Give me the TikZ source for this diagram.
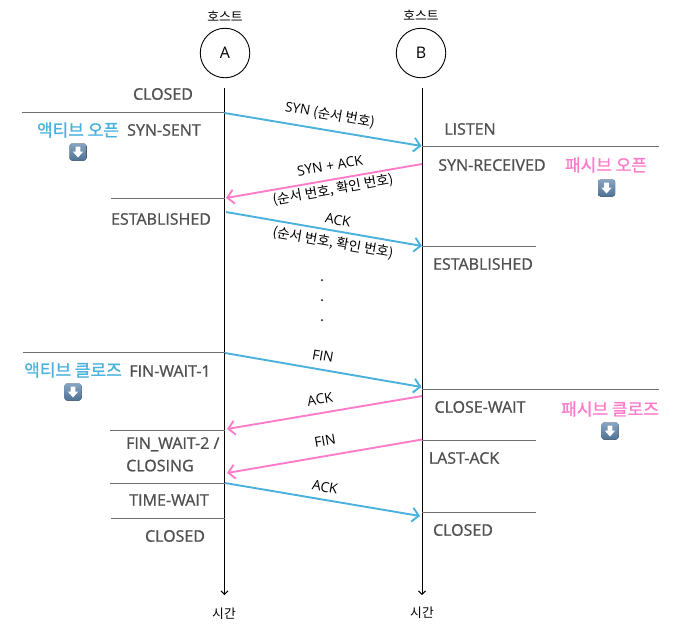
\documentclass[tikz,border=0pt]{standalone}
\usepackage{fontspec}
\setmainfont{Noto Sans CJK KR}
\newfontfamily\latf{Open Sans}
\newfontfamily\statef[FakeBold=1]{Open Sans}
\newfontfamily\rolef[FakeBold=1.2]{Noto Sans CJK KR}
\usetikzlibrary{arrows.meta}
\definecolor{tcpblue}{HTML}{4AB1DC}
\definecolor{tcppink}{HTML}{FF7CCB}
\definecolor{stategray}{HTML}{505050}
\definecolor{rulegray}{HTML}{707070}
\definecolor{btnA}{HTML}{86A5C4}
\definecolor{btnB}{HTML}{4F7195}
\tikzset{
  x=1pt,y=-1pt,
  host/.style={draw=black,line width=0.9pt,circle,minimum size=49.5pt,inner sep=0pt,font=\latf\fontsize{16}{16}\selectfont},
  small/.style={inner sep=0pt,font=\fontsize{12.8}{13}\selectfont},
  msg/.style={inner sep=0pt,font=\fontsize{13.6}{15}\selectfont},
  latmsg/.style={inner sep=0pt,font=\latf\fontsize{13.8}{15}\selectfont},
  state/.style={inner sep=0pt,text=stategray,font=\statef\fontsize{16}{19}\selectfont},
  role/.style={inner sep=0pt,font=\rolef\fontsize{17}{18}\selectfont},
  life/.style={line width=0.9pt,-{Straight Barb[length=3.5pt,width=7pt]}},
  rule/.style={line width=0.9pt,draw=rulegray},
  bluearrow/.style={line width=1.9pt,draw=tcpblue,-{Straight Barb[length=6.5pt,width=14pt]}},
  pinkarrow/.style={line width=1.9pt,draw=tcppink,-{Straight Barb[length=6.5pt,width=14pt]}},
  btn/.pic={
    \fill[top color=btnA,bottom color=btnB,rounded corners=2.5pt] (-8.5,-8.5) rectangle (8.5,8.5);
    \fill[white] (-2.3,-5.5) -- (2.3,-5.5) -- (2.3,-0.5) -- (5.3,-0.5) -- (0,5.5) -- (-5.3,-0.5) -- (-2.3,-0.5) -- cycle;
  }
}
\begin{document}
\begin{tikzpicture}
\useasboundingbox (0,0) rectangle (677,633);
% hosts
\node[small] (hostA) at (225,16) {호스트};
\node[small] (hostB) at (421,15) {호스트};
\node[host] (A) at (225,53) {A};
\node[host] (B) at (421,53) {B};
% life lines
\coordinate (At) at (224.5,88);
\coordinate (Ab) at (224.5,595);
\coordinate (Bt) at (422,88);
\coordinate (Bb) at (422,595);
\draw[life] (At) -- (Ab);
\draw[life] (Bt) -- (Bb);
% rules at A
\foreach \n/\xa/\ya in {a1/22/112,a2/111/198,a3/23/352.5,a4/110/430,a5/110/483,a6/111/518}{
  \coordinate (\n) at (\xa,\ya);
  \coordinate (\n e) at (224.5,\ya);
  \draw[rule] (\n) -- (\n e);
}
% rules at B
\foreach \n/\xa/\ya in {b1/659/146.5,b2/536/246.5,b3/659/389.5,b4/536/440,b5/536/512.5}{
  \coordinate (\n) at (\xa,\ya);
  \coordinate (\n e) at (422,\ya);
  \draw[rule] (\n e) -- (\n);
}
% messages
\coordinate (m1s) at (224.5,113);   \coordinate (m1e) at (421.5,146);
\coordinate (m2s) at (422,164);     \coordinate (m2e) at (226,198);
\coordinate (m3s) at (226,212);     \coordinate (m3e) at (422,246);
\coordinate (m4s) at (225,353);     \coordinate (m4e) at (421.5,387);
\coordinate (m5s) at (422,396);     \coordinate (m5e) at (227,429);
\coordinate (m6s) at (422,439.5);   \coordinate (m6e) at (227,473);
\coordinate (m7s) at (225,483);     \coordinate (m7e) at (420,516);
\draw[bluearrow] (m1s) -- (m1e);
\draw[pinkarrow] (m2s) -- (m2e);
\draw[bluearrow] (m3s) -- (m3e);
\draw[bluearrow] (m4s) -- (m4e);
\draw[pinkarrow] (m5s) -- (m5e);
\draw[pinkarrow] (m6s) -- (m6e);
\draw[bluearrow] (m7s) -- (m7e);
% message labels
\node[msg,rotate=-10] (l1) at (330,115) {{\latf SYN} (순서 번호)};
\node[latmsg,rotate=10] (l2) at (330,165.5) {SYN + ACK};
\node[msg,rotate=10] (l2b) at (333,190) {(순서 번호, 확인 번호)};
\node[latmsg,rotate=-10] (l3) at (338,220) {ACK};
\node[msg,rotate=-10] (l3b) at (333,243) {(순서 번호, 확인 번호)};
\node[latmsg,rotate=-10] (l4) at (323,356) {FIN};
\node[latmsg,rotate=10] (l5) at (320,399) {ACK};
\node[latmsg,rotate=10] (l6) at (325,441) {FIN};
\node[latmsg,rotate=-10] (l7) at (325,487) {ACK};
\foreach \n/\y in {d1/280,d2/300,d3/320}{\fill (322,\y) circle (1pt);}
% states left
\node[state] (s1) at (163,94) {CLOSED};
\node[state] (s2) at (164,130) {SYN-SENT};
\node[state] (s3) at (161,219) {ESTABLISHED};
\node[state] (s4) at (170,371) {FIN-WAIT-1};
\node[state,align=left,anchor=north west] (s5) at (126,437) {FIN\_WAIT-2 /\\[3.5pt]CLOSING};
\node[state] (s6) at (169,500) {TIME-WAIT};
\node[state] (s7) at (175,536) {CLOSED};
% states right
\node[state] (r1) at (470,129) {LISTEN};
\node[state] (r2) at (492,165) {SYN-RECEIVED};
\node[state] (r3) at (483,264) {ESTABLISHED};
\node[state] (r4) at (480,407) {CLOSE-WAIT};
\node[state] (r5) at (464,458) {LAST-ACK};
\node[state] (r6) at (463,530) {CLOSED};
% roles
\node[role,text=tcpblue] (p1) at (78,130) {액티브 오픈};
\node[role,text=tcppink] (p2) at (606,165) {패시브 오픈};
\node[role,text=tcpblue] (p3) at (73,370) {액티브 클로즈};
\node[role,text=tcppink] (p4) at (610,409) {패시브 클로즈};
\pic at (78,152) {btn};
\pic at (606.5,188) {btn};
\pic at (73,392) {btn};
\pic at (610,431) {btn};
% time
\node[small] (t1) at (224,614) {시간};
\node[small] (t2) at (422,613) {시간};
\end{tikzpicture}
\end{document}
